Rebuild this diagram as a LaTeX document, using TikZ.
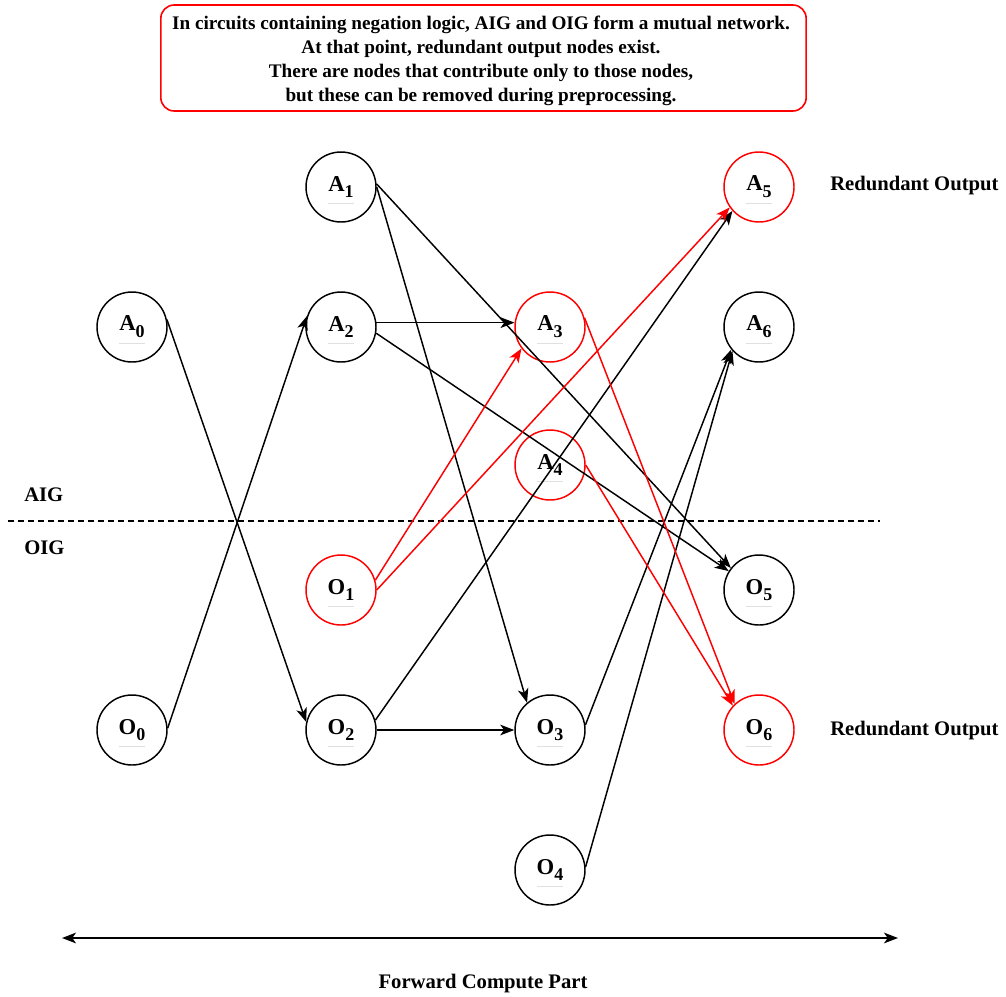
\documentclass[tikz,border=0pt]{standalone}
\usepackage{fontspec}
\setmainfont{Liberation Serif}
\usetikzlibrary{arrows.meta}
\definecolor{rd}{RGB}{255,0,0}
\tikzset{
  gnode/.style={circle,draw=black,line width=1.1pt,minimum size=52.5pt,inner sep=0pt,font=\fontsize{17}{18}\selectfont\bfseries,
    path picture={\draw[black!12,line width=0.6pt] ([xshift=-10pt,yshift=-12.5pt]path picture bounding box.center) -- ++(20pt,0);}},
  rnode/.style={gnode,draw=rd},
  edge/.style={line width=1.1pt,-{Stealth[length=10.5pt,width=8pt,inset=2.8pt]}},
  redge/.style={edge,draw=rd,-{Stealth[length=10.5pt,width=8pt,inset=2.8pt,fill=rd]}},
  lbl/.style={font=\fontsize{15.5}{18}\selectfont\bfseries,inner sep=0pt},
}
\newcommand{\nl}[2]{\raisebox{2pt}{#1\raisebox{-0.3em}{\fontsize{13.5}{14}\selectfont #2}}}
\begin{document}
\begin{tikzpicture}[x=0.75pt,y=-0.75pt]
\useasboundingbox (0,0) rectangle (1006,996);
% title
\node[draw=rd,line width=1.2pt,rounded corners=10pt,minimum width=484pt,minimum height=79.5pt,
  inner sep=0pt] (title) at (483.5,58) {};
\node[align=center,font=\fontsize{14.4}{18}\selectfont\bfseries,inner sep=0pt] (ttext) at (481,60.5)
 {In circuits containing negation logic, AIG and OIG form a mutual network.\\
  At that point, redundant output nodes exist.\\
  There are nodes that contribute only to those nodes,\\
  but these can be removed during preprocessing.};
% nodes
\node[gnode] (A0) at (132,327) {\nl{A}{0}};
\node[gnode] (A1) at (341,187) {\nl{A}{1}};
\node[gnode] (A2) at (341,327) {\nl{A}{2}};
\node[rnode] (A3) at (550,327) {\nl{A}{3}};
\node[rnode] (A4) at (550,465) {\nl{A}{4}};
\node[rnode] (A5) at (759,187) {\nl{A}{5}};
\node[gnode] (A6) at (759,327) {\nl{A}{6}};
\node[gnode] (O0) at (132,730) {\nl{O}{0}};
\node[rnode] (O1) at (341,590) {\nl{O}{1}};
\node[gnode] (O2) at (341,730) {\nl{O}{2}};
\node[gnode] (O3) at (550,730) {\nl{O}{3}};
\node[gnode] (O4) at (550,870) {\nl{O}{4}};
\node[gnode] (O5) at (759,590) {\nl{O}{5}};
\node[rnode] (O6) at (759,730) {\nl{O}{6}};
% labels
\node[lbl,anchor=west] (aig) at (24,495) {AIG};
\node[lbl,anchor=west] (oig) at (24,548) {OIG};
\node[lbl,anchor=west] (r1) at (830,186) {Redundant Output};
\node[lbl,anchor=west] (r2) at (830,731) {Redundant Output};
\node[lbl] (fwd) at (483,984) {Forward Compute Part};
% divider
\coordinate (dl) at (8,521);
\coordinate (dr) at (880,521);
\draw[line width=1pt,dash pattern=on 4.5pt off 3pt] (dl) -- (dr);
% bottom double arrow
\coordinate (bl) at (62,938);
\coordinate (br) at (898,938);
\draw[line width=1.3pt,{Stealth[length=10.5pt,width=8pt,inset=2.8pt]}-{Stealth[length=10.5pt,width=8pt,inset=2.8pt]}] (bl) -- (br);
% black edges
\draw[edge] (A0.12) -- (O2.167);
\draw[edge] (O0.3) -- (A2.162);
\draw[edge] (A2.7) -- (A3.173);
\draw[edge] (A2.-10) -- (O5.148);
\draw[edge] (A1.5) -- (O5.142);
\draw[edge] (A1.0) -- (O3.130);
\draw[edge] (O2.16) -- (A5.222);
\draw[edge] (O2.0) -- (O3.180);
\draw[edge] (O3.8) -- (A6.219);
\draw[edge] (O4.5) -- (A6.222);
% red edges
\draw[redge] (O1.16) -- (A3.217);
\draw[redge] (O1.0) -- (A5.215);
\draw[redge] (A3.15) -- (O6.133);
\draw[redge] (A4.0) -- (O6.137);
\end{tikzpicture}
\end{document}
